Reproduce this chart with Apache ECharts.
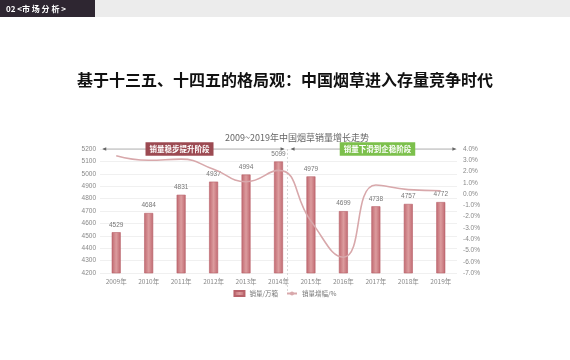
<!DOCTYPE html>
<html><head><meta charset="utf-8">
<script src="https://cdn.jsdelivr.net/npm/echarts@6/dist/echarts.min.js"></script>
<style>html,body{margin:0;padding:0;background:#fff;}#c{width:570px;height:360px;}</style>
</head><body><div id="c"></div>
<script>
const categories = ['2009年','2010年','2011年','2012年','2013年','2014年','2015年','2016年','2017年','2018年','2019年'];
const salesValues = [4529, 4684, 4831, 4937, 4994, 5099, 4979, 4699, 4738, 4757, 4772];
const growthValues = [3.4, 3.0, 3.1, 2.2, 1.1, 2.1, -2.4, -5.6, 0.8, 0.4, 0.3];
const leftTicks = {min: 4200, max: 5200, interval: 100};
const rightTicks = {min: -7, max: 4, interval: 1};
const phaseLabels = ['销量稳步提升阶段', '销量下滑到企稳阶段'];

const chart = echarts.init(document.getElementById('c'));
const option = {
  backgroundColor: '#fff',
  animation: false,
  title: [
    {text: '基于十三五、十四五的格局观：中国烟草进入存量竞争时代', left: 'center', top: 67,
     textStyle: {fontFamily: '"Noto Sans CJK SC"', fontSize: 16, fontWeight: 'bold', color: '#111'}},
    {text: '2009~2019年中国烟草销量增长走势', left: 220, top: 128,
     textStyle: {fontFamily: '"Noto Sans CJK SC"', fontSize: 9, fontWeight: 'normal', color: '#666'}}
  ],
  grid: {left: 100, right: 113, top: 149, bottom: 87},
  legend: {
    bottom: 58, left: 'center', itemWidth: 10, itemHeight: 5, itemGap: 8,
    textStyle: {fontSize: 6.5, color: '#777', fontFamily: '"Noto Sans CJK SC"'},
    data: [{name: '销量/万箱', icon: 'rect'}, {name: '销量增幅/%'}]
  },
  xAxis: {
    type: 'category', data: categories,
    axisLine: {show: false}, axisTick: {show: false},
    axisLabel: {fontSize: 6.5, color: '#888', margin: 5, fontFamily: '"Noto Sans CJK SC"'}
  },
  yAxis: [
    {type: 'value', min: leftTicks.min, max: leftTicks.max, interval: leftTicks.interval,
     axisLine: {show: false}, axisTick: {show: false},
     axisLabel: {fontSize: 6.5, color: '#888', margin: 4, formatter: v => String(v)},
     splitLine: {lineStyle: {color: '#ececec', width: 0.8}}},
    {type: 'value', min: rightTicks.min, max: rightTicks.max, interval: rightTicks.interval,
     axisLine: {show: false}, axisTick: {show: false},
     axisLabel: {fontSize: 6.5, color: '#888', margin: 6, formatter: v => v.toFixed(1) + '%'},
     splitLine: {show: false}}
  ],
  series: [
    {name: '销量/万箱', type: 'bar', data: salesValues, barWidth: 9,
     itemStyle: {
       color: new echarts.graphic.LinearGradient(0, 0, 1, 0, [
         {offset: 0, color: '#c06870'}, {offset: 0.5, color: '#dc9c9e'}, {offset: 1, color: '#c06870'}]),
       borderColor: '#b8626a', borderWidth: 0.6},
     label: {show: true, position: 'top', fontSize: 6.5, color: '#777', distance: 4}},
    {name: '销量增幅/%', type: 'line', yAxisIndex: 1, data: growthValues, smooth: 0.5,
     symbol: 'none', lineStyle: {color: '#d8a8ab', width: 1.6}, itemStyle: {color: '#d8a8ab'}}
  ]
};
chart.setOption(option);

function buildGraphics() {
  const p = (i) => chart.convertToPixel({xAxisIndex: 0}, categories[i]);
  const yTop = chart.convertToPixel({yAxisIndex: 0}, leftTicks.max);
  const yBot = chart.convertToPixel({yAxisIndex: 0}, leftTicks.min);
  const step = p(1) - p(0);
  const sepX = p(5) + step * 0.28;
  const leftStart = p(0) - step * 0.4;
  const rightEnd = p(10) + step * 0.45;
  const g = [
    {type: 'rect', shape: {x: 0, y: 0, width: 570, height: 17}, style: {fill: '#ececec'}},
    {type: 'rect', shape: {x: 0, y: 0, width: 95, height: 17}, style: {fill: '#2e2631'}},
    {type: 'text', x: 6, y: 8.5, style: {text: '02 <市 场 分 析 >', fill: '#fff', fontSize: 8, fontWeight: 'bold',
      fontFamily: '"Noto Sans CJK SC"', verticalAlign: 'middle'}},
    {type: 'line', shape: {x1: sepX, y1: yTop, x2: sepX, y2: yBot + 18},
     style: {stroke: '#cfcfcf', lineWidth: 0.8, lineDash: [2, 2]}},
    {type: 'line', shape: {x1: leftStart, y1: yTop, x2: sepX - 4, y2: yTop}, style: {stroke: '#999', lineWidth: 0.7}},
    {type: 'line', shape: {x1: sepX + 4, y1: yTop, x2: rightEnd, y2: yTop}, style: {stroke: '#999', lineWidth: 0.7}},
    {type: 'polygon', shape: {points: [[leftStart - 1, yTop], [leftStart + 3, yTop - 1.8], [leftStart + 3, yTop + 1.8]]}, style: {fill: '#666'}},
    {type: 'polygon', shape: {points: [[sepX - 3, yTop], [sepX - 7, yTop - 1.8], [sepX - 7, yTop + 1.8]]}, style: {fill: '#666'}},
    {type: 'polygon', shape: {points: [[sepX + 3, yTop], [sepX + 7, yTop - 1.8], [sepX + 7, yTop + 1.8]]}, style: {fill: '#666'}},
    {type: 'polygon', shape: {points: [[rightEnd + 1, yTop], [rightEnd - 3, yTop - 1.8], [rightEnd - 3, yTop + 1.8]]}, style: {fill: '#666'}},
    {type: 'text', x: (p(1) + p(3)) / 2 - step * 0.05, y: yTop, style: {text: phaseLabels[0], fill: '#fff', fontSize: 7.5,
      fontWeight: 'bold', fontFamily: '"Noto Sans CJK SC"', align: 'center', verticalAlign: 'middle',
      backgroundColor: '#9c4a52', padding: [3, 4]}},
    {type: 'text', x: (p(7) + p(9)) / 2 + step * 0.05, y: yTop, style: {text: phaseLabels[1], fill: '#fff', fontSize: 7.5,
      fontWeight: 'bold', fontFamily: '"Noto Sans CJK SC"', align: 'center', verticalAlign: 'middle',
      backgroundColor: '#7cc04c', padding: [3, 4]}}
  ];
  chart.setOption({graphic: g});
}
buildGraphics();
</script>
</body></html>
